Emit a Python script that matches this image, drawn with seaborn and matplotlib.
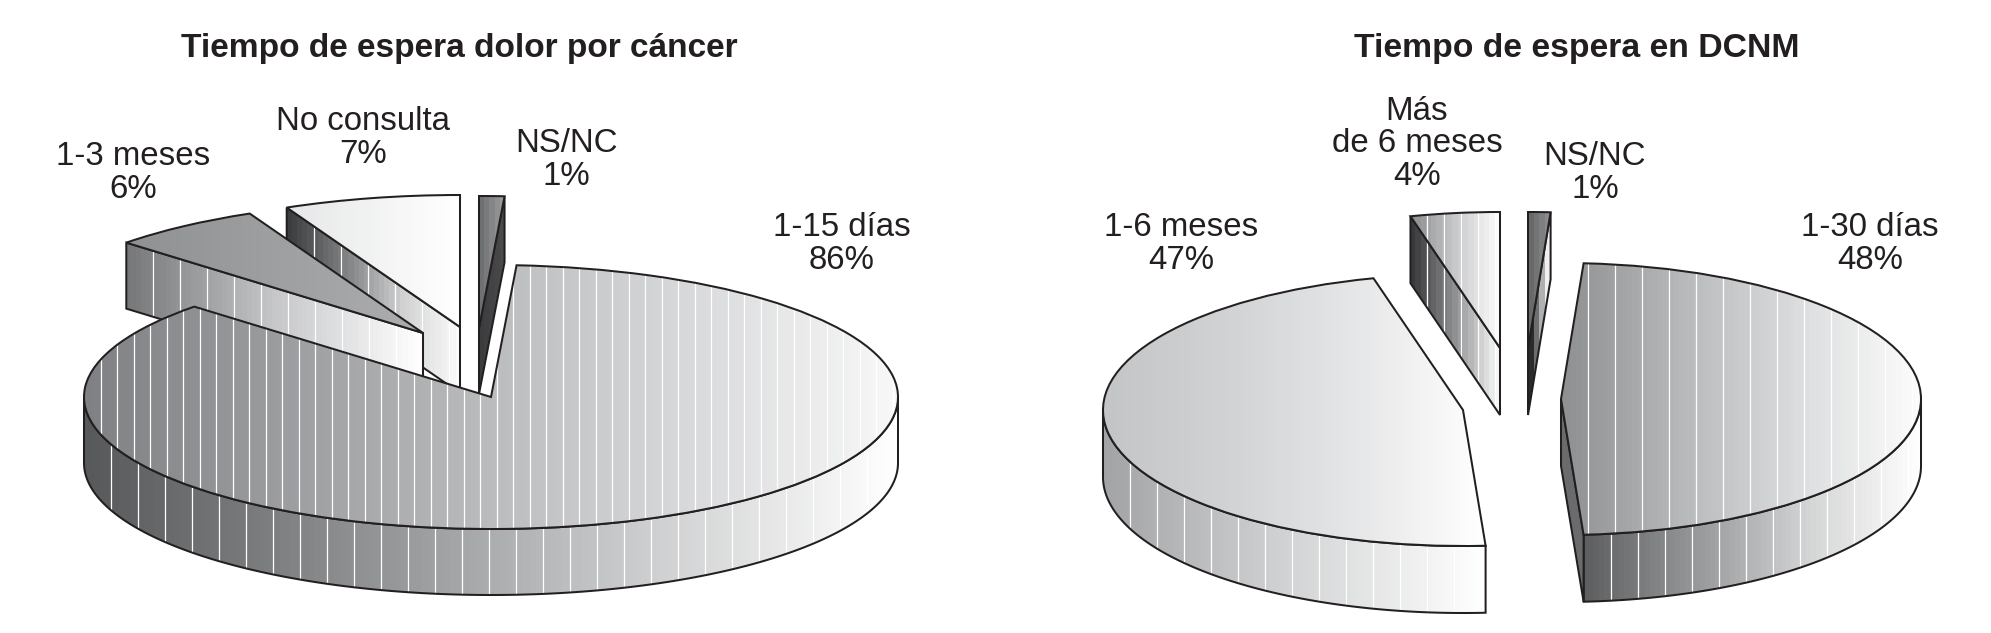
import numpy as np
import matplotlib
matplotlib.use('Agg')
import matplotlib.pyplot as plt
from matplotlib.patches import Polygon
import seaborn as sns

# data, clockwise from the top of each pie
cancer_title = 'Tiempo de espera dolor por cáncer'
cancer_labels = ['NS/NC', '1-15 días', '1-3 meses', 'No consulta']
cancer_values = [1, 86, 6, 7]

dcnm_title = 'Tiempo de espera en DCNM'
dcnm_labels = ['NS/NC', '1-30 días', '1-6 meses', 'Más\nde 6 meses']
dcnm_values = [1, 48, 47, 4]

W, H = 1991, 633
LINE = '#231f20'
LW = 1.45

sns.set_theme(style='white')
plt.rcParams['font.family'] = ['Liberation Sans', 'DejaVu Sans']


def band_colors(stops, n):
    return np.array(sns.blend_palette(stops, n_colors=n))[None, :, :3]


def paint(ax, xy, stops, step, rx, z):
    # banded gradient and thin white stripes, clipped to the face
    x0, x1 = xy[:, 0].min(), xy[:, 0].max()
    y0, y1 = xy[:, 1].min(), xy[:, 1].max()
    n = max(int((x1 - x0) * rx / 5), 2)
    clip = Polygon(xy, closed=True, facecolor='none', edgecolor='none', zorder=z)
    ax.add_patch(clip)
    im = ax.imshow(band_colors(stops, n), extent=(x0, x1, y0, y1), aspect='auto',
                   interpolation='nearest', zorder=z)
    im.set_clip_path(clip)
    if step:
        xs = np.arange(x0 + step / rx, x1, step / rx)
        lines = ax.vlines(xs, y0, y1, colors='white', linewidth=0.9, zorder=z + 0.1)
        lines.set_clip_path(clip)


def outline(ax, xy, z):
    ax.add_patch(Polygon(xy, closed=True, facecolor='none', edgecolor=LINE,
                         linewidth=LW, joinstyle='miter', zorder=z))


def arc(center, t0, t1):
    t = np.radians(np.linspace(t0, t1, 160))
    return np.column_stack([center[0] + np.cos(t), center[1] + np.sin(t)])


def draw_pie(values, cx, cy, rx, ry, depth, offsets, styles):
    ax = fig.add_axes([0, 0, 1, 1], facecolor='none')
    wedges, _ = ax.pie(values, startangle=90, counterclock=False, radius=1,
                       wedgeprops={'facecolor': 'none', 'edgecolor': LINE, 'linewidth': LW})
    ax.set_aspect('auto')
    d = depth / ry
    for wedge, (dx, dy), st in zip(wedges, offsets, styles):
        wedge.set_center((dx / rx, -dy / ry))
        c = np.array(wedge.center)
        t1, t2 = wedge.theta1, wedge.theta2
        z = st['order'] * 10

        # outer wall: the part of the rim that faces the viewer
        for k in range(-1, 2):
            a, b = max(t1, 180 + 360 * k), min(t2, 360 + 360 * k)
            if a < b:
                top = arc(c, a, b)
                face = np.vstack([top, (top - [0, d])[::-1]])
                paint(ax, face, st['wall'], st['wall_step'], rx, z)
                outline(ax, face, z + 1)

        # cut faces
        for t, visible in ((t1, np.cos(np.radians(t1)) > 1e-6),
                           (t2, np.cos(np.radians(t2)) < -1e-6)):
            if visible:
                p = c + [np.cos(np.radians(t)), np.sin(np.radians(t))]
                face = np.array([c, p, p - [0, d], c - [0, d]])
                paint(ax, face, st['cut'], st['wall_step'], rx, z + 2)
                outline(ax, face, z + 3)

        # top face
        edge = np.vstack([[c], arc(c, t1, t2)])
        paint(ax, edge, st['top'], st['top_step'], rx, z + 4)
        wedge.set_zorder(z + 5)

    ax.set_xlim(-cx / rx, (W - cx) / rx)
    ax.set_ylim(-(H - cy) / ry, cy / ry)
    ax.axis('off')
    return ax


def put_text(x, y, s, **kw):
    fig.text(x / W, 1 - y / H, s, ha='center', va='center', color='#231f20', **kw)


fig = plt.figure(figsize=(W / 100, H / 100), dpi=100, facecolor='white')

cancer_styles = [
    dict(order=0, top=['#6f7072', '#9a9b9d'], top_step=0, wall=['#444', '#444'], wall_step=0,
         cut=['#3c3c3e', '#4a4a4c']),
    dict(order=3, top=['#808184', '#a7a8aa', '#cfd0d2', '#f8f8f8'], top_step=16.5,
         wall=['#58595b', '#8f9091', '#c9cacb', '#ffffff'], wall_step=27,
         cut=['#444', '#444']),
    dict(order=2, top=['#909193', '#acadaf'], top_step=0,
         wall=['#77787a', '#c6c7c9', '#ffffff'], wall_step=27,
         cut=['#77787a', '#c6c7c9', '#ffffff']),
    dict(order=1, top=['#e6e7e8', '#ffffff'], top_step=0,
         wall=['#555', '#555'], wall_step=27,
         cut=['#3c3d3f', '#808183', '#d0d1d2', '#fbfbfb']),
]
cancer_offsets = [(-12, -69), (0, 0), (-68, -64), (-31, -70)]
draw_pie(cancer_values, 491, 397, 407, 132, 66, cancer_offsets, cancer_styles)

dcnm_styles = [
    dict(order=0, top=['#68696b', '#8a8b8d'], top_step=0, wall=['#444', '#444'], wall_step=0,
         cut=['#2b2b2d', '#8f9092', '#f0f0f0']),
    dict(order=3, top=['#8f9092', '#b8b9bb', '#dcddde', '#fcfcfc'], top_step=27,
         wall=['#5e5f61', '#98999b', '#d3d4d5', '#ffffff'], wall_step=27,
         cut=['#6a6b6d', '#6a6b6d']),
    dict(order=2, top=['#c4c5c7', '#d2d3d5', '#e6e7e8', '#ffffff'], top_step=0,
         wall=['#a3a4a6', '#d4d5d6', '#ffffff'], wall_step=27,
         cut=['#888', '#888']),
    dict(order=1, top=['#8d8e90', '#c7c8ca', '#fbfbfb'], top_step=17,
         wall=['#555', '#555'], wall_step=17,
         cut=['#39393b', '#8f9092', '#f6f6f6']),
]
dcnm_offsets = [(16, -52), (49, -1), (-49, 10), (-12, -52)]
draw_pie(dcnm_values, 1512, 400, 360, 136, 67, dcnm_offsets, dcnm_styles)

label_size = 23.8
put_text(459, 48, cancer_title, fontsize=24.1, fontweight='bold')
put_text(1577, 48, dcnm_title, fontsize=24.3, fontweight='bold')

for label, value, (x, y) in zip(cancer_labels, cancer_values,
                                [(566, 160), (842, 244), (133, 173), (363, 138)]):
    put_text(x, y, f'{label}\n{value}%', fontsize=label_size, linespacing=1.06)
for label, value, (x, y) in zip(dcnm_labels, dcnm_values,
                                [(1595, 173), (1870, 244), (1181, 244), (1417, 144)]):
    put_text(x, y, f'{label}\n{value}%', fontsize=label_size, linespacing=1.06)

fig.savefig('out.png', dpi=100)
